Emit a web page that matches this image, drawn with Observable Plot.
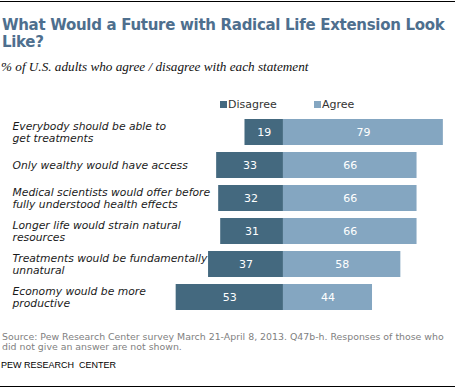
<!DOCTYPE html>
<html>
<head>
<meta charset="utf-8">
<script src="https://cdn.jsdelivr.net/npm/d3@7"></script>
<script src="https://cdn.jsdelivr.net/npm/@observablehq/plot@0.6"></script>
<style>
  html, body { margin: 0; padding: 0; background: #fff; }
  #wrap { position: relative; width: 455px; height: 388px; overflow: hidden; background: #fff; }
  .rule { position: absolute; left: 0; width: 455px; height: 1px; background: #000; }
  #title { position: absolute; left: 2px; top: 17px; white-space: pre; font: bold 15px "DejaVu Sans", Verdana, sans-serif; line-height: 17px; letter-spacing: -0.3px; color: #4e6f8e; }
  #subtitle { position: absolute; left: 1px; top: 59px; font: italic 13.2px "Liberation Serif", Georgia, serif; color: #111; white-space: nowrap; }
  #legend { position: absolute; top: 98px; left: 0; font: 11px "DejaVu Sans", Verdana, sans-serif; color: #333; }
  .item { position: absolute; white-space: nowrap; }
  .sw { display: inline-block; width: 7px; height: 7px; margin-right: 1px; vertical-align: 0px; }
  #chart { position: absolute; left: 0; top: 90px; }
  #source { position: absolute; left: 2px; top: 332px; white-space: pre; font: 9.4px "DejaVu Sans", Verdana, sans-serif; line-height: 10px; color: #7f7f7f; }
  #credit { position: absolute; left: 1px; top: 360px; font: 9px "Liberation Sans", Arial, sans-serif; color: #000; white-space: pre; }
</style>
</head>
<body>
<div id="wrap">
  <div class="rule" style="top:1px"></div>
  <div id="title"></div>
  <div id="subtitle"></div>
  <div id="legend"></div>
  <div id="chart"></div>
  <div id="source"></div>
  <div id="credit"></div>
  <div class="rule" style="top:386px"></div>
</div>
<script>
const titleText = "What Would a Future with Radical Life Extension Look\nLike?";
const subtitleText = "% of U.S. adults who agree / disagree with each statement";
const sourceText = "Source: Pew Research Center survey March 21-April 8, 2013. Q47b-h. Responses of those who\ndid not give an answer are not shown.";
const creditText = "PEW RESEARCH  CENTER";

const categories = [
  "Everybody should be able to\nget treatments",
  "Only wealthy would have access",
  "Medical scientists would offer before\nfully understood health effects",
  "Longer life would strain natural\nresources",
  "Treatments would be fundamentally\nunnatural",
  "Economy would be more\nproductive"
];
const seriesNames = ["Disagree", "Agree"];
const seriesColors = ["#44697f", "#84a6c1"];
const disagree = [19, 33, 32, 31, 37, 53];
const agree = [79, 66, 66, 66, 58, 44];

document.getElementById("title").textContent = titleText;
document.getElementById("subtitle").textContent = subtitleText;
document.getElementById("source").textContent = sourceText;
document.getElementById("credit").textContent = creditText;

// legend
const legend = document.getElementById("legend");
const legendX = [220, 314];
seriesNames.forEach((name, i) => {
  const it = document.createElement("div");
  it.className = "item";
  it.style.left = legendX[i] + "px";
  const sw = document.createElement("span");
  sw.className = "sw";
  sw.style.background = seriesColors[i];
  it.appendChild(sw);
  it.appendChild(document.createTextNode(name));
  legend.appendChild(it);
});

const rows = [];
categories.forEach((c, i) => {
  rows.push({cat: c, series: "Disagree", x1: -disagree[i], x2: 0, v: disagree[i]});
  rows.push({cat: c, series: "Agree", x1: 0, x2: agree[i], v: agree[i]});
});

const chart = Plot.plot({
  width: 455,
  height: 230,
  marginLeft: 161.5,
  marginRight: 0,
  marginTop: 22,
  marginBottom: 3,
  style: {fontFamily: "DejaVu Sans, Verdana, sans-serif", fontSize: "11px", background: "transparent"},
  x: {domain: [-60, 85], axis: null},
  y: {domain: categories, padding: 0.2, axis: null},
  color: {domain: seriesNames, range: seriesColors},
  marks: [
    Plot.barX(rows, {y: "cat", x1: "x1", x2: "x2", fill: "series"}),
    Plot.text(rows, {y: "cat", x: d => (d.x1 + d.x2) / 2, text: d => String(d.v), fill: "white", fontSize: 11}),
    Plot.text(categories, {y: d => d, text: d => d, frameAnchor: "left", dx: -149.5, textAnchor: "start", fontStyle: "italic", lineHeight: 1.12, fill: "#1a1a1a", fontSize: 10.75})
  ]
});
document.getElementById("chart").appendChild(chart);
</script>
</body>
</html>
